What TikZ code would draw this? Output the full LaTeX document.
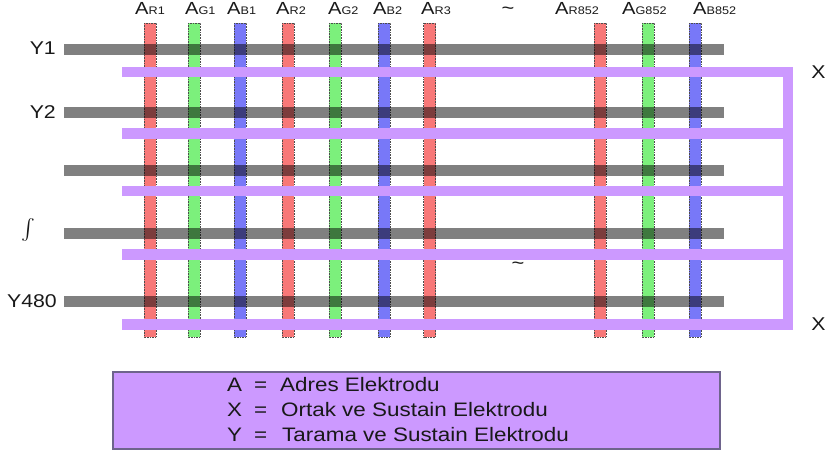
\documentclass[tikz,border=0pt]{standalone}
\usepackage{amsmath}
\usepackage{fontspec}
\setmainfont[FakeStretch=1.15]{Liberation Sans}
\definecolor{cR}{RGB}{248,120,120}
\definecolor{cG}{RGB}{124,240,124}
\definecolor{cB}{RGB}{120,120,248}
\definecolor{cY}{RGB}{128,128,128}
\definecolor{cX}{RGB}{204,153,255}
\definecolor{legborder}{RGB}{110,100,140}
\definecolor{txt}{RGB}{25,25,25}
\tikzset{
  abar/.style={fill=#1, draw=black!70, densely dotted, line width=0.6pt},
  ybar/.style={fill=cY, draw=none, blend mode=multiply},
  xbar/.style={fill=cX, draw=none},
  toplab/.style={anchor=base west, inner sep=0pt, text=txt},
  sidelab/.style={inner sep=0pt, text=txt, font=\fontsize{18.5}{21}\selectfont},
  legtxt/.style={anchor=base west, inner sep=0pt, text=txt, font=\fontsize{19.5}{22}\selectfont}
}
\newcommand{\alab}[2]{\fontsize{17.5}{20}\selectfont #1\fontsize{11}{13}\selectfont #2}
\begin{document}
\begin{tikzpicture}[x=1pt,y=-1pt]
\useasboundingbox (0,0) rectangle (828,454);
\fill[white] (0,0) rectangle (828,454);
% address electrodes
\foreach \xc/\cc [count=\i] in {150/cR,194/cG,240/cB,288/cR,335/cG,384/cB,429.5/cR,600/cR,648/cG,695/cB}{
  \path[abar=\cc] (\xc-6,23) rectangle (\xc+6,337) node[coordinate] (a\i) {};
}
% Y electrodes (scan)
\foreach \yc [count=\i] in {49.5,112.5,170.5,233.5,301.5}{
  \path[ybar] (64,\yc-5.5) rectangle (724,\yc+5.5) node[coordinate] (y\i) {};
}
% X electrodes (common)
\foreach \yc [count=\i] in {72,133.5,191,254.5,324.5}{
  \path[xbar] (122,\yc-5.3) rectangle (793,\yc+5.3) node[coordinate] (x\i) {};
}
\path[xbar] (783,66.7) rectangle (793,329.8) node[coordinate] (xv) {};
% top labels
\node[toplab] (lR1) at (135,15) {\alab{A}{R1}};
\node[toplab] (lG1) at (185,15) {\alab{A}{G1}};
\node[toplab] (lB1) at (227,15) {\alab{A}{B1}};
\node[toplab] (lR2) at (276,15) {\alab{A}{R2}};
\node[toplab] (lG2) at (328,15) {\alab{A}{G2}};
\node[toplab] (lB2) at (373,15) {\alab{A}{B2}};
\node[toplab] (lR3) at (421,15) {\alab{A}{R3}};
\node[toplab] (lR852) at (555,15) {\alab{A}{R852}};
\node[toplab] (lG852) at (622,15) {\alab{A}{G852}};
\node[toplab] (lB852) at (693,15) {\alab{A}{B852}};
\node[inner sep=0pt, text=txt, font=\fontsize{19}{20}\selectfont] (t1) at (508,11) {\textasciitilde};
\node[inner sep=0pt, text=txt, font=\fontsize{19}{20}\selectfont] (t2) at (518,266) {\textasciitilde};
% side labels
\node[sidelab, anchor=base east] (Y1) at (56,55) {Y1};
\node[sidelab, anchor=base east] (Y2) at (56,119) {Y2};
\node[inner sep=0pt, text=txt, font=\fontsize{20}{22}\selectfont] (Yint) at (28,230) {$\int$};
\node[sidelab, anchor=base east] (Y480) at (57,308) {Y480};
\node[sidelab] (X1) at (818.5,72) {X};
\node[sidelab] (X2) at (818.5,324.5) {X};
% legend
\draw[fill=cX, draw=legborder, line width=2pt] (113,372) rectangle (720,449) node[coordinate] (leg) {};
\node[legtxt] (lA) at (227,392) {A};
\node[legtxt] (eA) at (254,392) {=};
\node[legtxt] (dA) at (280,392) {Adres Elektrodu};
\node[legtxt] (lX) at (227,417) {X};
\node[legtxt] (eX) at (254,417) {=};
\node[legtxt] (dX) at (281,417) {Ortak ve Sustain Elektrodu};
\node[legtxt] (lY) at (227,442) {Y};
\node[legtxt] (eY) at (254,442) {=};
\node[legtxt] (dY) at (282,442) {Tarama ve Sustain Elektrodu};
\end{tikzpicture}
\end{document}
